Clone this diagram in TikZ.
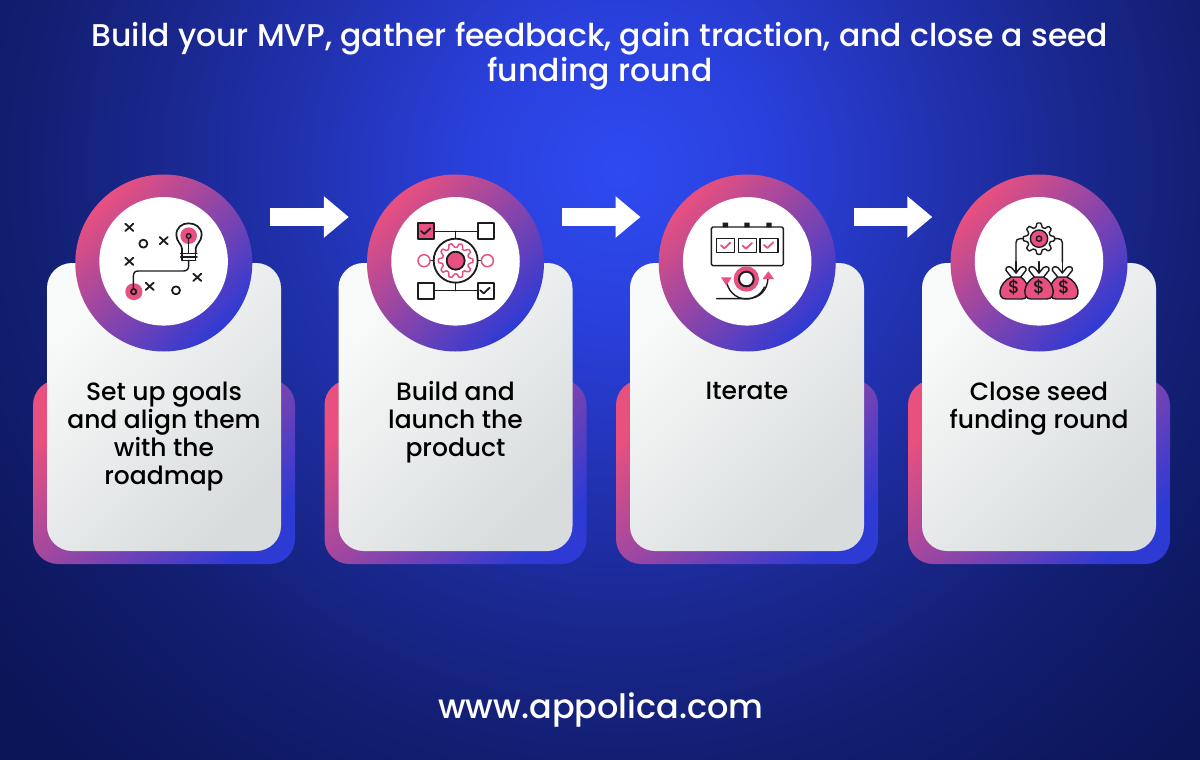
\documentclass[tikz,border=0pt]{standalone}
\usepackage{fontspec}
\setmainfont{Poppins Medium}
\usetikzlibrary{arrows.meta,shapes.geometric}
\definecolor{pinkc}{HTML}{E8507F}
\definecolor{purpc}{HTML}{8C44A2}
\definecolor{bluec}{HTML}{2E3AD4}
\definecolor{inkc}{HTML}{1C1C20}
\definecolor{cardlt}{HTML}{F9FAFA}
\definecolor{carddk}{HTML}{D8DCDD}
\definecolor{bg0}{HTML}{2E4AF0}
\definecolor{bg1}{HTML}{2A40DC}
\definecolor{bg2}{HTML}{2233B4}
\definecolor{bg3}{HTML}{1A2890}
\definecolor{bg4}{HTML}{121E70}
\definecolor{bg5}{HTML}{0C1558}
\pgfdeclareradialshading{bgshade}{\pgfpoint{0bp}{0bp}}{%
  color(0bp)=(bg0); color(4.7bp)=(bg1); color(9.4bp)=(bg2); color(14bp)=(bg3); color(18.75bp)=(bg4); color(25bp)=(bg5); color(50bp)=(bg5)}
\tikzset{
  backcard/.style={shade,top color=pinkc,middle color=purpc,bottom color=bluec,shading angle=45,
    minimum width=262pt,minimum height=184pt,rounded corners=25pt,inner sep=0pt,anchor=center},
  frontcard/.style={shade,top color=cardlt,bottom color=carddk,shading angle=45,
    minimum width=234pt,minimum height=288pt,rounded corners=25pt,inner sep=0pt},
  ringn/.style={circle,shade,top color=pinkc,middle color=purpc,bottom color=bluec,shading angle=45,
    minimum size=177pt,inner sep=0pt},
  hole/.style={circle,fill=white,minimum size=128.5pt,inner sep=0pt},
  cardtext/.style={text=black,align=center,font=\fontsize{25}{28}\selectfont,anchor=north,inner sep=0pt},
  flow/.style={line width=18pt,white,-{Triangle[length=25pt,width=40pt]}},
  ink/.style={draw=inkc,line width=1.4pt},
  inkb/.style={draw=inkc,line width=1.8pt},
  pinkline/.style={draw=pinkc,line width=1.5pt},
  icon/.style={x=0.33333pt,y=-0.33333pt,line cap=round,line join=round}
}
\newcommand{\iconX}[2]{\draw[inkb] (#1-12,#2-11)--(#1+12,#2+11) (#1-12,#2+11)--(#1+12,#2-11);}
\newcommand{\tick}[3]{\draw[#3,line width=1.8pt] (#1-14,#2-1)--(#1-4,#2+8)--(#1+14,#2-9);}
\newcommand{\gearpath}[6]{% cx cy R a n drawstyle
  \path[#6] plot[smooth cycle,samples=73,domain=0:355] ({#1+(#3+#4*min(1,max(-1,2*cos(#5*\x))))*cos(\x)},{#2+(#3+#4*min(1,max(-1,2*cos(#5*\x))))*sin(\x)});}
\newcommand{\bag}[3]{% knot x, y, bag centre x
  \path[fill=pinkc,draw=inkc,line width=1.4pt] (#1-14,#2-32) .. controls (#3-48,#2-14) and (#3-52,#2+34) .. (#3-24,#2+34) -- (#3+24,#2+34) .. controls (#3+52,#2+34) and (#3+48,#2-14) .. (#1+14,#2-32) -- cycle;
  \node[text=inkc,font=\fontsize{18}{18}\selectfont,inner sep=0pt] at (#3,#2-1) {\$};
  \path[fill=white,draw=inkc,line width=1.4pt] (#1-14,#2-32) -- (#1-30,#2-52) .. controls (#1-32,#2-62) and (#1-22,#2-66) .. (#1-13,#2-60) -- (#1,#2-44) -- (#1+13,#2-60) .. controls (#1+22,#2-66) and (#1+32,#2-62) .. (#1+30,#2-52) -- (#1+14,#2-32) -- cycle;
  \draw[ink] (#1,#2-78)--(#1,#2-44);
}
\begin{document}
\begin{tikzpicture}[x=1pt,y=-1pt]
\useasboundingbox (0,0) rectangle (1200,760);
\begin{scope}
\clip (0,0) rectangle (1200,760);
\shade[shading=bgshade] (-180,-630) rectangle (1420,970);
\end{scope}

\node[white,align=center,font=\fontsize{31.45}{35}\selectfont,inner sep=0pt,anchor=north] (title) at (600,22)
  {Build your MVP, gather feedback, gain traction, and close a seed\\funding round};
\node[white,font=\fontsize{33.5}{38}\selectfont,inner sep=0pt] (site) at (601,710) {www.appolica.com};

\node[backcard] (b1) at (164,472) {};
\node[backcard] (b2) at (455.5,472) {};
\node[backcard] (b3) at (747,472) {};
\node[backcard] (b4) at (1039,472) {};
\node[frontcard] (c1) at (164,407) {};
\node[frontcard] (c2) at (455.5,407) {};
\node[frontcard] (c3) at (747,407) {};
\node[frontcard] (c4) at (1039,407) {};
\node[ringn] (r1) at (163.8,263) {};
\node[ringn] (r2) at (455.5,263) {};
\node[ringn] (r3) at (747.2,263) {};
\node[ringn] (r4) at (1039,263) {};
\node[hole] (h1) at (163.6,261.3) {};
\node[hole] (h2) at (455.5,261.3) {};
\node[hole] (h3) at (747.2,261.3) {};
\node[hole] (h4) at (1039,261.3) {};

\node[cardtext] (t1) at (164,381.5) {Set up goals\\and align them\\with the\\roadmap};
\node[cardtext] (t2) at (455.5,381.5) {Build and\\launch the\\product};
\node[cardtext] (t3) at (747,381.5) {Iterate};
\node[cardtext] (t4) at (1039,381.5) {Close seed\\funding round};

\draw[flow] ([shift={(17.5,-46)}]r1.east) -- ([shift={(-18,-46)}]r2.west);
\draw[flow] ([shift={(17.5,-46)}]r2.east) -- ([shift={(-18,-46)}]r3.west);
\draw[flow] ([shift={(18,-46)}]r3.east) -- ([shift={(-18,-46)}]r4.west);

% icon 1
\begin{scope}[shift={(70,170)},icon]
\iconX{178}{172}\iconX{281}{212}\iconX{178}{274}\iconX{239}{349}\iconX{382}{322}
\draw[inkb] (220,221) circle (12);
\draw[inkb] (318,361) circle (12);
\fill[pinkc] (356,197) circle (25);
\draw[ink,line width=1.7pt] (336,250) -- (336,236) .. controls (336,224) and (319,214) .. (319,195) .. controls (319,172) and (336,160) .. (356,160) .. controls (376,160) and (395,172) .. (395,195) .. controls (395,214) and (377,224) .. (377,236) -- (377,250);
\draw[ink] (332,250)--(381,250) (332,261)--(381,261) (336,271)--(377,271);
\draw[ink] (336,250)--(336,271) (377,250)--(377,271);
\draw[ink] (356,205)--(356,250);
\draw[ink,fill=pinkc] (356,198) circle (7);
\fill[pinkc,rounded corners=8pt] (166,340) rectangle (217,390);
\draw[ink] (356,271) -- (356,287) .. controls (356,298) and (350,303) .. (340,303) -- (205,303) .. controls (195,303) and (190,308) .. (190,318) -- (190,358);
\draw[inkb,fill=pinkc] (191,365) circle (8);
\end{scope}

% icon 2
\begin{scope}[shift={(360,170)},icon]
\draw[ink] (221,184)--(353,184) (221,362)--(353,362) (287,184)--(287,206) (287,338)--(287,362) (210,272)--(221,272) (353,272)--(364,272);
\draw[inkb,fill=pinkc] (173,160) rectangle (221,208);
\tick{197}{184}{inkc}
\draw[inkb,fill=white] (353,160) rectangle (401,208);
\draw[inkb,fill=white] (173,338) rectangle (221,386);
\draw[inkb,fill=white] (353,338) rectangle (401,386);
\tick{375}{362}{inkc}
\draw[pinkline] (192,272) circle (18);
\draw[pinkline] (382,272) circle (18);
\draw[inkb] (287,272) circle (66);
\gearpath{287}{272}{46}{6}{10}{pinkline}
\draw[inkb,fill=pinkc] (287,272) circle (27);
\end{scope}

% icon 3
\begin{scope}[shift={(650,170)},icon]
\fill[inkc] (218,158) rectangle (234,172) (283,158) rectangle (299,172) (349,158) rectangle (365,172);
\draw[ink,rounded corners=1.5pt] (184,171) rectangle (400,287);
\draw[ink] (200,206) rectangle (254,247) (265,206) rectangle (319,247) (330,206) rectangle (384,247);
\tick{227}{227}{pinkc}
\tick{292}{228}{pinkc}
\tick{356}{226}{pinkc}
\draw[ink] (229,325) arc[start angle=180,end angle=25,x radius=60,y radius=62];
\draw[ink] (200,386) -- (290,386) .. controls (330,386) and (352,360) .. (354,325);
\fill[pinkc] (213,322) -- (245,322) -- (229,347) -- cycle;
\fill[pinkc] (338,327) -- (372,327) -- (355,304) -- cycle;
\fill[pinkc] (289,327) circle (38);
\draw[line width=2pt,draw=inkc,fill=white] (289,327) circle (22);
\end{scope}

% icon 4
\begin{scope}[shift={(945,170)},icon]
\draw[ink] (240,206) -- (225,206) .. controls (217,206) and (213,210) .. (213,218) -- (213,276);
\draw[ink] (324,206) -- (339,206) .. controls (347,206) and (352,210) .. (352,218) -- (352,276);
\bag{213}{353}{207}\bag{352}{353}{357}\bag{282}{353}{282}
\gearpath{282}{206}{41}{6}{8}{fill=white,draw=inkc,line width=1.4pt}
\draw[ink,fill=pinkc] (282,206) circle (26);
\draw[ink] (282,206) circle (8);
\end{scope}
\end{tikzpicture}
\end{document}
